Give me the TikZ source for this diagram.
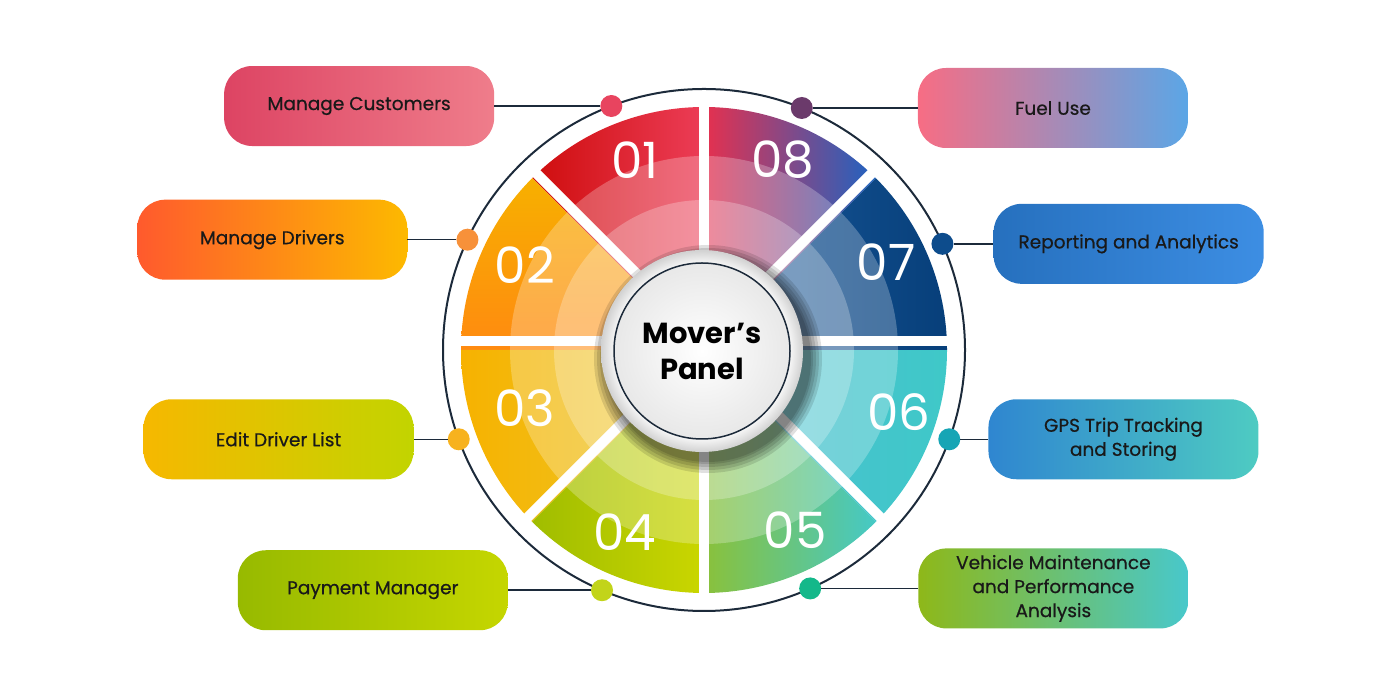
\documentclass[tikz,border=0pt]{standalone}
\usepackage{fontspec}
\setmainfont{Poppins}
\newfontfamily\labelfont{Poppins}[FakeBold=0.6]
\usetikzlibrary{calc}
\definecolor{navy}{HTML}{1C2A3A}
\definecolor{dotA}{HTML}{E8445F}
\definecolor{dotB}{HTML}{F7913A}
\definecolor{dotC}{HTML}{F7B21E}
\definecolor{dotD}{HTML}{C2D41A}
\definecolor{dotE}{HTML}{14B88A}
\definecolor{dotF}{HTML}{16A5B5}
\definecolor{dotG}{HTML}{0D4C8C}
\definecolor{dotH}{HTML}{6B3A6B}
\pgfdeclareradialshading{rimshade}{\pgfpoint{0bp}{0bp}}{color(0bp)=(white); color(21bp)=(white); color(25bp)=(black!18); color(50bp)=(black!18)}
% one coloured slice of the wheel, with two lighter inner bands
\newcommand{\wheelpart}[3]{%
  \begin{scope}
    \clip (ctr) -- ++(#1:243) arc[start angle=#1, end angle=#2, radius=243] -- cycle;
    \shade[#3] (ctr) -- ++(#1:243) arc[start angle=#1, end angle=#2, radius=243] -- cycle;
    \fill[white, opacity=0.25] (ctr) circle (194);
    \fill[white, opacity=0.25] (ctr) circle (150);
  \end{scope}}

\begin{document}
\begin{tikzpicture}[x=1pt, y=1pt,
    box/.style={rounded corners=28pt, minimum width=270pt, minimum height=80pt, align=center,
      text=black!90, font=\labelfont\fontsize{18.5}{24}\selectfont},
    dot/.style={circle, inner sep=0pt, minimum size=22pt},
    num/.style={text=white, font=\fontsize{50}{50}\selectfont},
    link/.style={navy, line width=1.5pt}]
    \useasboundingbox (0,0) rectangle (1400,700);
    \coordinate (ctr) at (704,350);
    \coordinate (gap) at (704,359);

    % Wheel
    \wheelpart{90}{135}{left color=red!80!black!95, right color={rgb,255:red,236;green,61;blue,87}}
    \wheelpart{135}{180}{top color={rgb,255:red,247;green,176;blue,0}, bottom color={rgb,255:red,255;green,138;blue,16}}
    \wheelpart{180}{225}{left color={rgb,255:red,247;green,178;blue,0}, right color={rgb,255:red,234;green,201;blue,44}}
    \wheelpart{225}{270}{left color={rgb,255:red,160;green,189;blue,0}, right color={rgb,255:red,202;green,214;blue,0}}
    \wheelpart{270}{315}{left color={rgb,255:red,138;green,193;blue,58}, right color={rgb,255:red,69;green,201;blue,198}}
    \wheelpart{315}{360}{left color={rgb,255:red,77;green,191;blue,210}, right color={rgb,255:red,63;green,200;blue,200}}
    \wheelpart{0}{45}{left color={rgb,255:red,26;green,90;blue,156}, right color={rgb,255:red,7;green,63;blue,122}}
    \wheelpart{45}{90}{left color={rgb,255:red,230;green,48;blue,78}, middle color={rgb,255:red,123;green,76;blue,158}, right color={rgb,255:red,30;green,99;blue,194}}

    \begin{scope}
      \clip (ctr) circle (247);
      \foreach \a in {0,45,90,135}
        \draw[white, line width=10pt] ($(gap)+(\a:300)$) -- ($(gap)+(\a+180:300)$);
    \end{scope}

    \draw[navy, line width=2pt] (ctr) circle (261);

    \node[num] (n01) at (635,540) {01};
    \node[num] (n02) at (525,435) {02};
    \node[num] (n03) at (525,292) {03};
    \node[num] (n04) at (625,168) {04};
    \node[num] (n05) at (795,170) {05};
    \node[num] (n06) at (899,288) {06};
    \node[num] (n07) at (886,438) {07};
    \node[num] (n08) at (783,540) {08};

    % Dots on the rim
    \node[dot, fill=dotA] (d01) at ($(ctr)+(110.8:261)$) {};
    \node[dot, fill=dotB] (d02) at ($(ctr)+(155:261)$) {};
    \node[dot, fill=dotC] (d03) at ($(ctr)+(200:261)$) {};
    \node[dot, fill=dotD] (d04) at ($(ctr)+(247:261)$) {};
    \node[dot, fill=dotE] (d05) at ($(ctr)+(294:261)$) {};
    \node[dot, fill=dotF] (d06) at ($(ctr)+(-20:261)$) {};
    \node[dot, fill=dotG] (d07) at ($(ctr)+(24:261)$) {};
    \node[dot, fill=dotH] (d08) at ($(ctr)+(68:261)$) {};

    % Labels
    \node[box, anchor=east, left color={rgb,255:red,221;green,68;blue,99}, right color={rgb,255:red,239;green,125;blue,139}] (b01) at ($(d01)+(-117,0)$) {Manage Customers};
    \node[box, anchor=east, left color={rgb,255:red,255;green,90;blue,45}, right color={rgb,255:red,253;green,185;blue,0}] (b02) at ($(d02)+(-60,0)$) {Manage Drivers};
    \node[box, anchor=east, left color={rgb,255:red,246;green,184;blue,0}, right color={rgb,255:red,194;green,212;blue,0}] (b03) at ($(d03)+(-45,0)$) {Edit Driver List};
    \node[box, anchor=east, left color={rgb,255:red,151;green,186;blue,0}, right color={rgb,255:red,197;green,214;blue,0}] (b04) at ($(d04)+(-94,0)$) {Payment Manager};
    \node[box, anchor=west, left color={rgb,255:red,142;green,184;blue,25}, right color={rgb,255:red,72;green,200;blue,203}] (b05) at ($(d05)+(108,0)$) {Vehicle Maintenance\\and Performance\\Analysis};
    \node[box, anchor=west, left color={rgb,255:red,47;green,134;blue,208}, right color={rgb,255:red,78;green,203;blue,194}] (b06) at ($(d06)+(39,0)$) {GPS Trip Tracking\\and Storing};
    \node[box, anchor=west, left color={rgb,255:red,38;green,112;blue,190}, right color={rgb,255:red,61;green,142;blue,227}] (b07) at ($(d07)+(51,0)$) {Reporting and Analytics};
    \node[box, anchor=west, left color={rgb,255:red,247;green,109;blue,132}, middle color={rgb,255:red,196;green,125;blue,224}, right color={rgb,255:red,91;green,166;blue,230}] (b08) at ($(d08)+(116,0)$) {Fuel Use};

    \draw[link] (d01) -- (b01);
    \draw[link] (d02) -- (b02);
    \draw[link] (d03) -- (b03);
    \draw[link] (d04) -- (b04);
    \draw[link] (d05) -- (b05);
    \draw[link] (d06) -- (b06);
    \draw[link] (d07) -- (b07);
    \draw[link] (d08) -- (b08);

    % Hub with shadow
    \foreach \r in {114,111,108,105,103}
      \fill[black, opacity=0.12] ($(702,349)+(6,-8)$) circle (\r);
    \shade[shading=rimshade] (702,349) circle (101);
    \node[circle, draw=navy, line width=1.5pt, minimum size=176pt, inner color=white, outer color=black!9,
      align=center, font=\bfseries\fontsize{29}{36}\selectfont] (hub) at (702,349) {Mover’s\\Panel};
\end{tikzpicture}
\end{document}
